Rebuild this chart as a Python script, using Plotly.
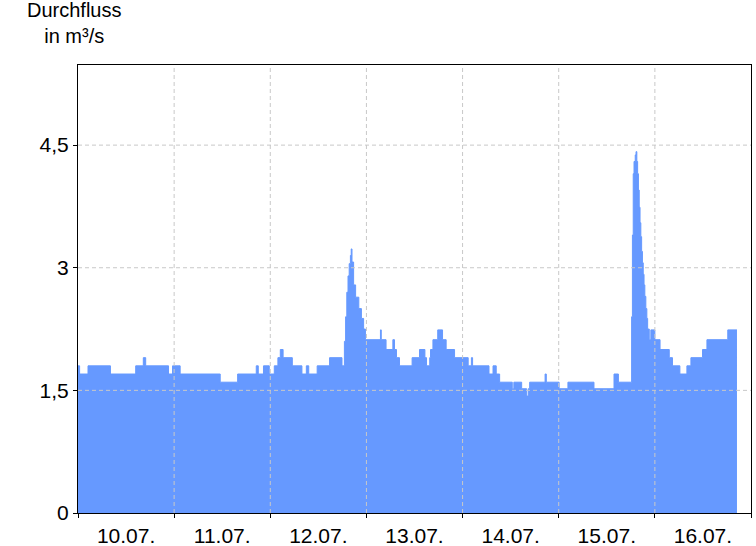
import plotly.graph_objects as go
from datetime import datetime, timedelta

# Time series: hours since 10.07. 00:00 and discharge (m³/s), value held until next time
hours = [0, 0.4, 2.5, 8.1, 14.4, 16.3, 16.9, 22.6, 23.6, 25.5,
         35.5, 39.85, 44.5, 45.0, 46.3, 47.75, 49.0, 49.9, 50.5, 51.2,
         53.5, 55.9, 57.0, 57.6, 59.7, 62.8, 65.9, 66.5, 66.8, 67.1,
         67.4, 67.7, 68.0, 68.2, 68.4, 68.8, 69.3, 70.1, 70.75, 71.3,
         71.75, 75.5, 75.7, 76.9, 78.6, 79.0, 79.5, 80.25, 83.4, 85.25,
         86.6, 87.0, 87.8, 88.0, 88.6, 89.8, 91.0, 91.9, 94.0, 97.4,
         98.2, 98.5, 102.6, 103.6, 104.4, 105.25, 108.4, 108.8, 110.75, 112.0,
         112.4, 112.75, 116.6, 116.9, 120.1, 122.3, 128.8, 133.8, 134.9, 138.2,
         138.4, 138.6, 138.8, 139.1, 139.3, 139.5, 139.7, 139.9, 140.1, 140.3,
         140.5, 140.7, 140.9, 141.1, 141.3, 141.5, 141.75, 142.0, 142.2, 142.6,
         143.0, 144.0, 145.3, 147.6, 148.4, 150.25, 152.0, 153.0, 155.9, 157.0,
         162.2, 164.5]
flow = [1.8, 1.7, 1.8, 1.7, 1.8, 1.9, 1.8, 1.7, 1.8, 1.7,
        1.6, 1.7, 1.8, 1.7, 1.8, 1.7, 1.8, 1.9, 2.0, 1.9,
        1.8, 1.7, 1.8, 1.7, 1.8, 1.9, 1.8, 2.1, 2.4, 2.7,
        2.9, 3.05, 3.15, 3.23, 3.07, 2.79, 2.64, 2.5, 2.38, 2.25,
        2.12, 2.24, 2.12, 2.0, 2.12, 2.0, 1.9, 1.8, 1.9, 2.0,
        1.9, 1.8, 1.9, 2.0, 2.12, 2.24, 2.12, 2.0, 1.9, 1.8,
        1.9, 1.8, 1.7, 1.8, 1.7, 1.6, 1.52, 1.6, 1.52, 1.43,
        1.52, 1.6, 1.7, 1.6, 1.52, 1.6, 1.52, 1.7, 1.6, 2.4,
        3.4, 4.15, 4.3, 4.38, 4.42, 4.3, 4.15, 3.95, 3.74, 3.55,
        3.38, 3.2, 3.06, 2.92, 2.79, 2.65, 2.5, 2.38, 2.25, 2.12,
        2.24, 2.12, 2.0, 1.9, 1.8, 1.7, 1.8, 1.9, 2.0, 2.12,
        2.24, 2.24]

days = ["2024-07-10", "2024-07-11", "2024-07-12", "2024-07-13",
        "2024-07-14", "2024-07-15", "2024-07-16", "2024-07-17"]
y_ticks = [0, 1.5, 3, 4.5]
y_labels = ["0", "1,5", "3", "4,5"]

t0 = datetime(2024, 7, 10)
times = [t0 + timedelta(hours=h) for h in hours]

blue = "#6699ff"
grid = "#c8c8c8"
font = "Liberation Sans, Arial, sans-serif"

fig = go.Figure()
fig.add_trace(go.Scatter(
    x=times, y=flow, mode="lines",
    line=dict(shape="hv", color=blue, width=1),
    fill="tozeroy", fillcolor=blue, hoverinfo="skip", showlegend=False,
))

shapes = []
for d in days[1:-1]:
    shapes.append(dict(type="line", xref="x", yref="paper", x0=d, x1=d, y0=0, y1=1,
                       line=dict(color=grid, width=1, dash="4px,3px"), layer="above"))
for v in y_ticks[1:]:
    shapes.append(dict(type="line", xref="paper", yref="y", x0=0, x1=1, y0=v, y1=v,
                       line=dict(color=grid, width=1, dash="4px,3px"), layer="above"))

fig.update_layout(
    width=756, height=546,
    margin=dict(l=78, r=5, t=65, b=33, autoexpand=False),
    paper_bgcolor="white", plot_bgcolor="white",
    font=dict(family=font, size=21, color="black"),
    shapes=shapes,
    annotations=[dict(
        text="Durchfluss<br>in m³/s", xref="paper", yref="paper",
        x=0, y=1, xanchor="center", yanchor="bottom", xshift=-4, yshift=16,
        showarrow=False, align="center", font=dict(family=font, size=20, color="black"),
    )],
)
fig.update_xaxes(
    type="date", range=[days[0], days[-1]], automargin=False,
    tick0=days[0], dtick=86400000, tickformat="%d.%m.", ticklabelmode="period",
    showgrid=False, zeroline=False,
    ticks="outside", ticklen=4, tickcolor="black",
    showline=True, linecolor="black", linewidth=1, mirror=True, layer="above traces",
)
fig.update_yaxes(
    range=[0, 5.48], tickvals=y_ticks, ticktext=y_labels, automargin=False,
    showgrid=False, zeroline=False,
    ticks="outside", ticklen=4, tickcolor="black",
    showline=True, linecolor="black", linewidth=1, mirror=True, layer="above traces",
)

fig.write_html(
    "out.html",
    config={"displayModeBar": False},
    post_script="document.body.style.margin='0';document.body.style.overflow='hidden';",
)
